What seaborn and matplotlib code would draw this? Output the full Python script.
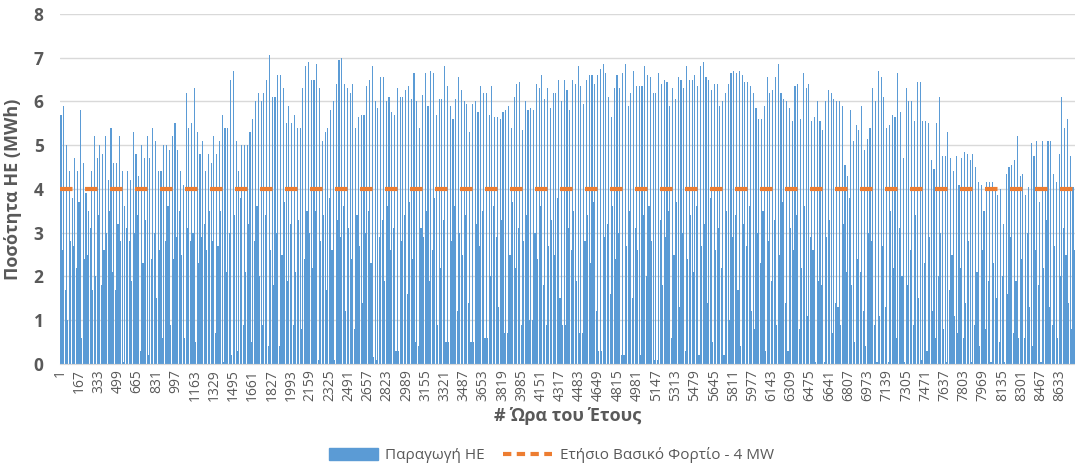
import numpy as np
import pandas as pd
import matplotlib.pyplot as plt
import seaborn as sns
from matplotlib.patches import Patch
from matplotlib.lines import Line2D

# daily peak of the hourly production (MWh), day by day
day_peak = [
    5.7, 5.9, 5.0, 4.4, 3.8, 4.7, 4.4, 5.8, 4.6, 3.9,
    3.5, 4.4, 5.2, 4.7, 5.0, 4.8, 5.2, 4.2, 5.4, 4.6,
    4.6, 5.2, 4.4, 3.6, 4.4, 4.2, 5.3, 4.8, 4.3, 5.0,
    4.7, 5.2, 4.7, 5.4, 5.1, 4.4, 4.4, 5.0, 5.0, 4.9,
    5.2, 5.5, 4.9, 4.4, 4.1, 6.2, 5.4, 5.5, 6.3, 5.3,
    4.8, 5.1, 4.4, 4.8, 4.6, 5.2, 4.8, 5.1, 5.7, 5.4,
    5.4, 6.5, 6.7, 5.1, 4.4, 5.0, 5.0, 5.0, 5.3, 5.6,
    6.0, 6.2, 6.0, 6.2, 6.5, 7.05, 6.1, 6.1, 6.6, 6.6,
    6.3, 5.5, 5.9, 5.5, 5.7, 5.4, 5.4, 6.3, 6.8, 6.9,
    6.5, 6.5, 6.85, 6.3, 5.1, 5.3, 5.4, 5.8, 6.0, 6.4,
    6.95, 7.0, 6.4, 6.3, 6.2, 6.4, 5.4, 5.65, 5.7, 5.7,
    6.35, 6.5, 6.8, 6.0, 5.85, 6.55, 6.55, 6.0, 6.1, 5.75,
    5.7, 6.3, 6.1, 6.1, 6.25, 6.35, 6.05, 6.65, 6.0, 5.4,
    6.15, 6.65, 5.9, 6.7, 6.65, 5.7, 6.05, 6.05, 6.8, 6.35,
    5.9, 5.6, 6.05, 6.55, 6.25, 6.0, 5.95, 5.3, 5.95, 6.0,
    5.75, 6.35, 6.2, 6.2, 5.7, 6.35, 5.65, 5.65, 5.6, 5.75,
    5.8, 5.9, 5.4, 6.1, 6.4, 6.45, 5.35, 6.0, 5.8, 5.85,
    5.8, 6.4, 6.3, 6.6, 6.05, 6.3, 5.85, 6.2, 6.2, 6.5, 6.0,
    6.5, 6.25, 5.8, 6.5, 6.4, 6.8, 6.35, 5.95, 6.5, 6.6,
    6.6, 6.4, 6.6, 6.75, 6.85, 6.65, 6.1, 5.65, 6.3, 6.6,
    6.3, 6.65, 6.85, 5.9, 6.2, 6.7, 6.35, 6.35, 6.35, 6.8,
    6.6, 6.55, 6.2, 6.2, 6.65, 6.4, 6.5, 6.45, 5.9, 6.3,
    6.05, 6.55, 6.5, 6.3, 6.8, 6.5, 6.5, 6.6, 6.35, 6.8,
    6.9, 6.55, 6.5, 6.25, 6.4, 6.4, 5.9, 6.0, 6.2, 6.4,
    6.65, 6.7, 6.65, 6.7, 6.6, 6.45, 6.45, 6.35, 6.2, 5.85,
    5.6, 5.6, 5.9, 6.55, 6.2, 6.25, 6.55, 6.85, 6.2, 6.05,
    6.0, 5.85, 5.55, 6.35, 6.4, 5.6, 6.65, 6.3, 6.4, 5.55, 5.65,
    6.0, 5.55, 5.35, 6.0, 6.25, 6.2, 6.05, 6.0, 6.0, 5.9,
    4.55, 4.3, 5.8, 5.1, 5.45, 5.35, 5.9, 4.9, 5.15, 5.4,
    6.3, 6.0, 6.7, 6.55, 6.1, 5.4, 5.45, 5.7, 5.65, 6.65,
    5.75, 4.7, 6.3, 6.0, 6.0, 5.55, 6.45, 6.45, 5.55, 5.55,
    5.5, 4.65, 4.45, 5.5, 6.1, 4.75, 4.75, 5.3, 4.7, 4.4,
    4.75, 4.1, 4.7, 4.85, 4.8, 4.65, 4.8, 4.5, 4.15, 4.1,
    3.5, 4.15, 4.15, 4.15, 4.05, 3.85, 4.0, 3.2, 4.35, 4.5,
    4.55, 4.65, 5.2, 4.3, 4.35, 3.85, 4.05, 5.05, 4.75, 5.1,
    3.7, 5.1, 4.0, 5.1, 5.1, 4.35, 4.15, 4.8, 6.1, 5.4,
    5.6, 4.75, 4.05,
]

# lowest hours between the daily peaks (MWh), rough reading
day_low = [
    2.6, 1.7, 1.0, 2.8, 2.7, 2.2, 3.7, 0.6, 2.4, 2.5, 3.1, 1.7, 2.0, 3.4, 1.8,
    2.6, 3.0, 3.5, 2.1, 1.7, 3.2, 2.8, 0.05, 3.1, 2.8, 1.9, 3.0, 3.4, 0.3, 2.3,
    3.3, 0.2, 2.4, 3.0, 1.5, 2.6, 0.6, 2.8, 3.6, 0.9, 2.4, 2.9, 3.5, 2.5, 0.6,
    3.1, 2.8, 3.0, 0.5, 2.3, 2.9, 3.2, 2.6, 3.5, 2.8, 0.7, 2.7, 3.5, 0.05, 2.1,
    3.0, 0.2, 3.4, 0.3, 3.8, 0.9, 2.1, 3.2, 0.5, 2.8, 3.6, 2.0, 0.9, 3.4, 0.4,
    2.6, 1.8, 3.0, 0.4, 2.5, 3.7, 1.9, 3.2, 0.9, 2.1, 3.3, 0.8, 2.4, 3.5, 3.0,
    2.2, 3.5, 0.1, 2.8, 3.4, 1.7, 3.8, 2.6, 0.1, 3.3, 2.9, 3.6, 1.2, 3.1, 2.4,
    0.8, 3.4, 2.7, 1.4, 3.0, 3.5, 2.3, 0.15, 0.1, 2.9, 3.3, 1.9, 3.6, 2.6, 3.1,
    0.3, 0.3, 2.8, 3.4, 1.6, 3.7, 2.4, 0.5, 0.4, 3.1, 2.9, 3.5, 1.9, 2.6, 3.8,
    0.9, 2.2, 3.3, 0.5, 0.5, 2.8, 3.6, 1.2, 3.0, 2.5, 3.4, 1.4, 0.5, 0.5, 3.2,
    2.7, 3.5, 0.6, 0.6, 2.0, 3.6, 2.9, 1.3, 3.3, 0.7, 0.7, 2.5, 3.7, 2.2, 3.1,
    0.9, 2.8, 3.4, 1.0, 1.0, 3.0, 2.4, 3.6, 1.8, 0.9, 2.7, 3.3, 2.5, 3.8, 1.5,
    0.9, 0.9, 3.1, 2.6, 3.5, 1.9, 0.7, 0.7, 2.8, 3.4, 2.3, 3.7, 1.2, 0.3, 0.3,
    2.9, 3.2, 1.6, 3.6, 2.4, 3.0, 0.2, 0.2, 2.7, 3.5, 1.5, 3.1, 2.6, 0.2, 3.4,
    2.0, 3.6, 2.8, 0.1, 0.1, 3.3, 1.8, 2.9, 3.5, 0.6, 2.5, 3.7, 1.3, 3.0, 0.3,
    2.4, 3.4, 2.1, 3.6, 0.2, 2.7, 3.2, 1.4, 3.8, 0.5, 2.6, 3.1, 2.2, 0.2, 3.5,
    1.0, 2.9, 3.4, 1.7, 0.4, 3.2, 2.7, 3.6, 1.2, 0.8, 3.0, 2.3, 3.5, 0.3, 2.8,
    1.9, 3.3, 0.9, 2.5, 3.7, 1.4, 0.3, 3.1, 2.6, 3.4, 0.8, 2.2, 3.6, 1.1, 2.9,
    2.6, 0.05, 1.9, 1.8, 0.05, 2.9, 3.3, 0.7, 1.4, 1.3, 0.9, 3.2, 2.1, 3.8, 1.8,
    0.5, 2.4, 2.1, 1.2, 0.4, 3.0, 2.8, 0.9, 0.05, 1.1, 2.7, 1.3, 0.05, 3.5, 2.2,
    0.6, 3.1, 2.0, 0.05, 1.8, 2.6, 0.9, 3.4, 1.5, 0.1, 2.3, 0.3, 2.9, 1.2, 0.6,
    2.0, 3.0, 0.8, 0.05, 1.7, 2.5, 1.1, 0.7, 2.2, 0.6, 1.4, 2.8, 0.05, 0.9, 2.1,
    0.4, 2.6, 0.8, 1.9, 0.05, 2.3, 1.5, 0.5, 2.0, 0.05, 1.6, 2.9, 0.7, 1.9, 0.6,
    2.4, 0.6, 3.0, 1.3, 0.4, 2.6, 1.8, 0.05, 2.2, 3.3, 1.3, 0.9, 2.7, 0.6, 2.0,
    3.1, 2.5, 1.4, 0.8, 2.6,
]

base_load = 4  # MW, annual base load

tick_hours = [
    1, 167, 333, 499, 665, 831, 997, 1163, 1329, 1495, 1661, 1827, 1993,
    2159, 2325, 2491, 2657, 2823, 2989, 3155, 3321, 3487, 3653, 3819, 3985,
    4151, 4317, 4483, 4649, 4815, 4981, 5147, 5313, 5479, 5645, 5811, 5977,
    6143, 6309, 6475, 6641, 6807, 6973, 7139, 7305, 7471, 7637, 7803, 7969,
    8135, 8301, 8467, 8633,
]

# peak hour and low hour of each day, side by side on the hour axis
n = min(len(day_peak), len(day_low))
days = np.arange(n)
df = pd.DataFrame({
    "hour": np.concatenate([days * 24 + 7, days * 24 + 19]),
    "mwh": np.concatenate([day_peak[:n], day_low[:n]]),
})

sns.set_style("white")
plt.rcParams["font.family"] = ["Open Sans", "DejaVu Sans"]

grey = "#595959"
blue = "#5B9BD5"
orange = "#ED7D31"

fig = plt.figure(figsize=(10.75, 4.63), dpi=100)
ax = fig.add_axes([0.056, 0.214, 0.944, 0.756])

sns.barplot(data=df, x="hour", y="mwh", native_scale=True, width=0.8,
            color=blue, saturation=1, errorbar=None, linewidth=0, ax=ax)
ax.axhline(base_load, color=orange, lw=3, linestyle=(0, (3, 3)), zorder=5)

ax.set_xlim(0.5, 8760.5)
ax.set_ylim(0, 8)
ax.set_yticks(range(0, 9))
ax.yaxis.grid(True, color="#D9D9D9", lw=1)
ax.set_axisbelow(True)
ax.set_xticks(tick_hours)
ax.set_xticklabels([str(h) for h in tick_hours], rotation=90, fontsize=10, color=grey)
for lab in ax.get_yticklabels():
    lab.set_fontsize(12.5)
    lab.set_fontweight("bold")
    lab.set_color(grey)
ax.tick_params(length=0)
ax.tick_params(axis="y", pad=12)
ax.tick_params(axis="x", pad=4)
for s in ["top", "right", "left"]:
    ax.spines[s].set_visible(False)
ax.spines["bottom"].set_color("#D9D9D9")

ax.set_xlabel("# Ώρα του Έτους", fontsize=13, fontweight="bold", color=grey, labelpad=4)
ax.set_ylabel("Ποσότητα ΗΕ (MWh)", fontsize=13, fontweight="bold", color=grey, labelpad=8)

handles = [Patch(color=blue),
           Line2D([], [], color=orange, lw=3, linestyle=(0, (2, 1.3)))]
fig.legend(handles, ["Παραγωγή ΗΕ", "Ετήσιο Βασικό Φορτίο - 4 MW"],
           loc="lower center", bbox_to_anchor=(0.513, -0.03), ncol=2, frameon=False,
           fontsize=11, labelcolor=grey, handlelength=3.2, handleheight=0.8,
           columnspacing=1.2, handletextpad=0.5)

fig.savefig("out.png", dpi=100)
